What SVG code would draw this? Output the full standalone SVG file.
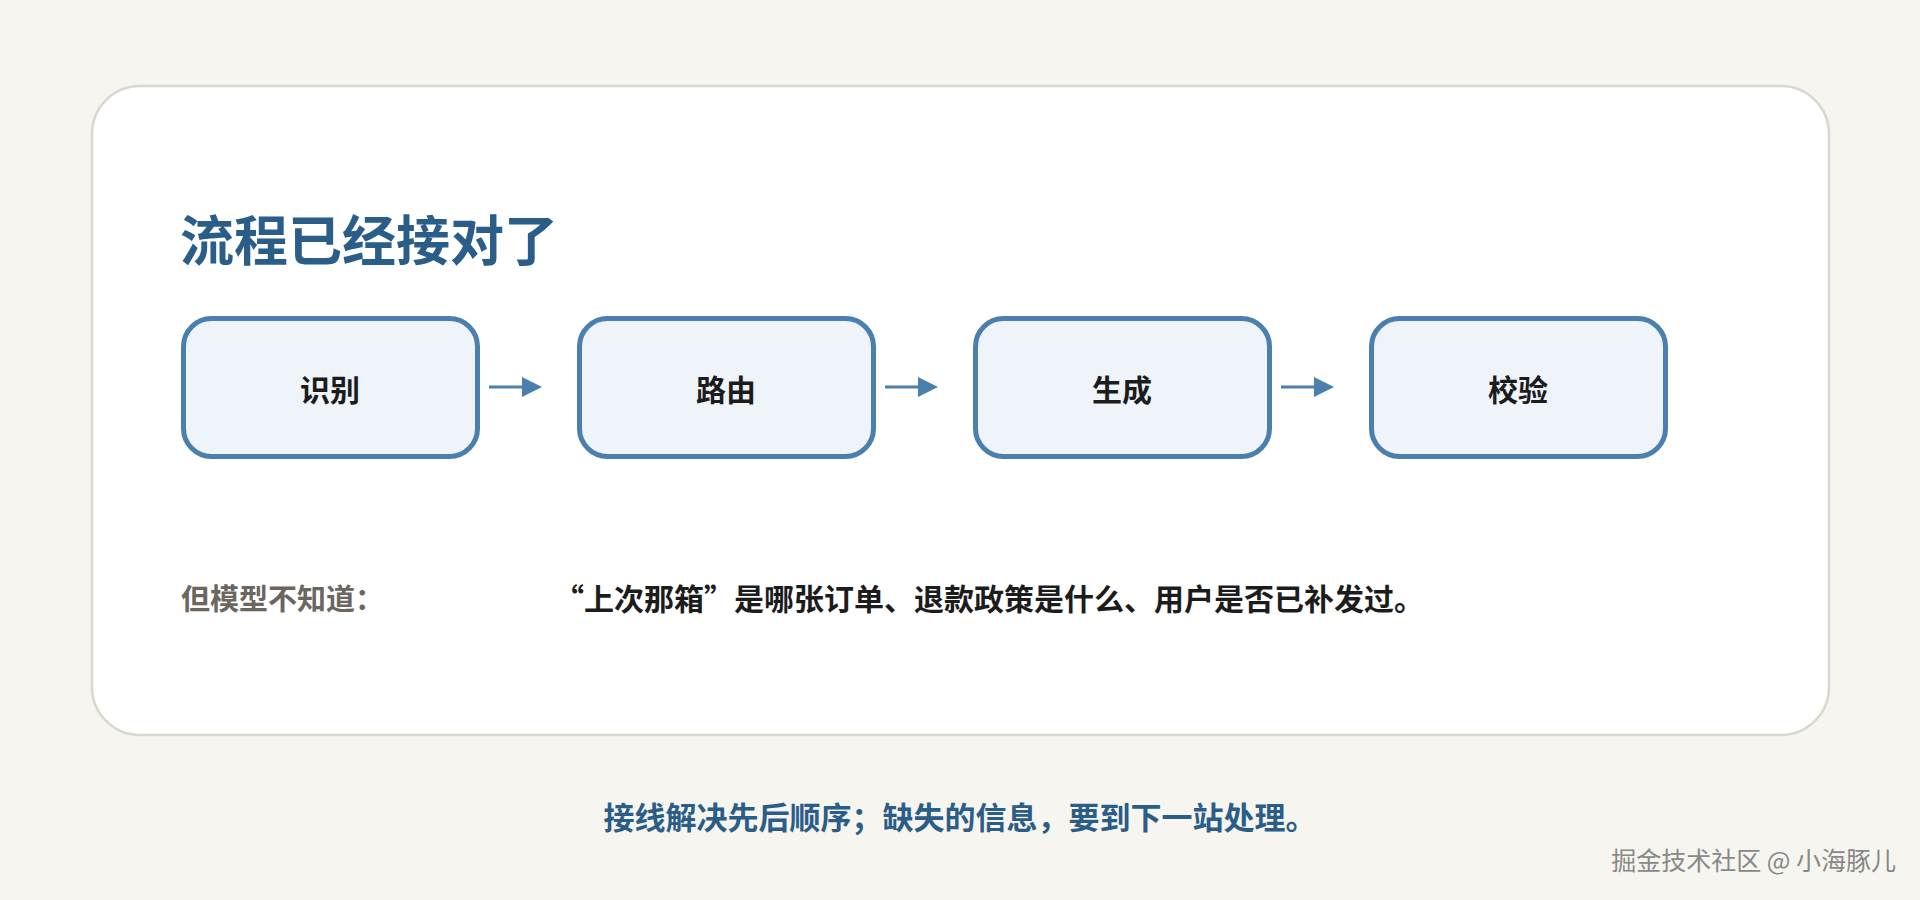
<svg xmlns="http://www.w3.org/2000/svg" width="1920" height="900" viewBox="0 0 1920 900">
<style>
.cjk{font-family:"Noto Sans CJK SC","Noto Sans",sans-serif;font-weight:700}
.box{fill:#eef4f9;stroke:#4a7fae;stroke-width:5}
.lbl{font-size:30px;fill:#1c1c1c;text-anchor:middle;dominant-baseline:central}
.conn{stroke:#4a7fae;stroke-width:3;fill:none}
</style>
<defs>
<marker id="ah" viewBox="0 0 10 10" refX="0" refY="5" markerWidth="20" markerHeight="20" markerUnits="userSpaceOnUse" orient="auto">
<path d="M0,0 L10,5 L0,10 Z" fill="#4a7fae"/>
</marker>
</defs>
<rect width="1920" height="900" fill="#f6f5f0"/>
<rect x="92" y="86" width="1737" height="649" rx="48" fill="#ffffff" stroke="#d9d7d0" stroke-width="2.5"/>
<text class="cjk" x="180" y="261" font-size="54" font-weight="900" fill="#2a5d88">流程已经接对了</text>
<g id="n1"><rect class="box" x="183.5" y="318.5" width="294" height="138" rx="28"/><text class="cjk lbl" x="330" y="388">识别</text></g>
<g id="n2"><rect class="box" x="579.5" y="318.5" width="294" height="138" rx="28"/><text class="cjk lbl" x="726" y="388">路由</text></g>
<g id="n3"><rect class="box" x="975.5" y="318.5" width="294" height="138" rx="28"/><text class="cjk lbl" x="1122" y="388">生成</text></g>
<g id="n4"><rect class="box" x="1371.5" y="318.5" width="294" height="138" rx="28"/><text class="cjk lbl" x="1518" y="388">校验</text></g>
<g id="connectors">
<line class="conn" x1="489" y1="387" x2="522" y2="387" marker-end="url(#ah)"/>
<line class="conn" x1="885" y1="387" x2="918" y2="387" marker-end="url(#ah)"/>
<line class="conn" x1="1281" y1="387" x2="1314" y2="387" marker-end="url(#ah)"/>
</g>
<text class="cjk" x="181" y="610" font-size="29" fill="#6b6660">但模型不知道：</text>
<text class="cjk" x="554" y="610" font-size="30" fill="#1c1c1c">“上次那箱”是哪张订单、退款政策是什么、用户是否已补发过。</text>
<text class="cjk" x="960" y="829" font-size="31" fill="#2a5d88" text-anchor="middle">接线解决先后顺序；缺失的信息，要到下一站处理。</text>
<text x="1896" y="870" font-size="25" fill="#888888" text-anchor="end" font-family="Noto Sans CJK SC, sans-serif">掘金技术社区 @ 小海豚儿</text>
</svg>
